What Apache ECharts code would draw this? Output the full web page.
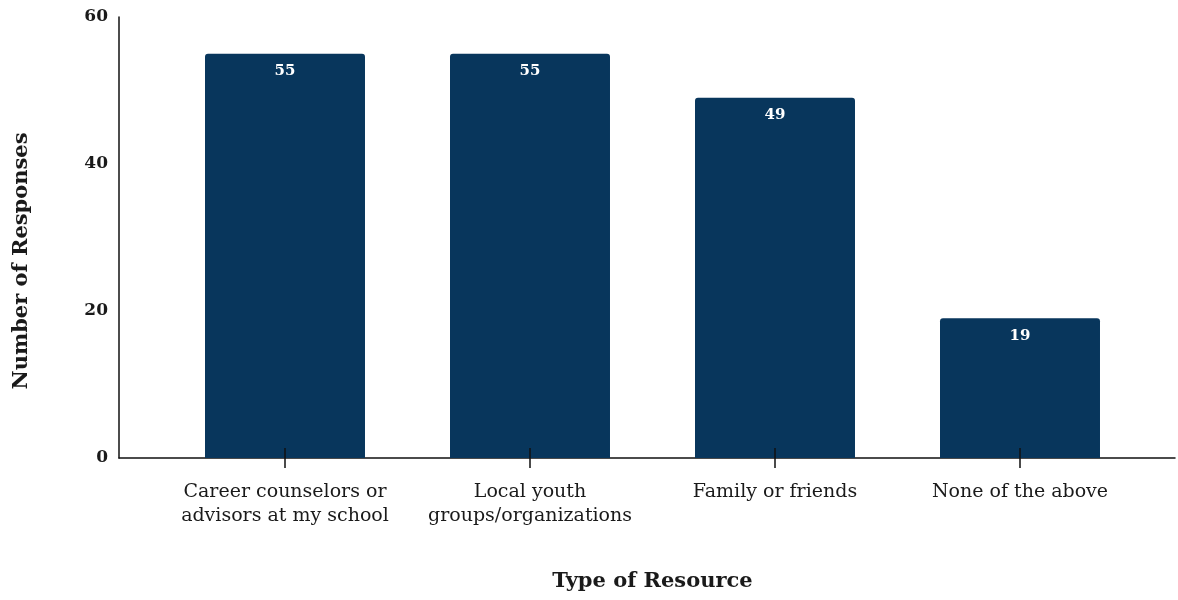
<!DOCTYPE html>
<html>
<head>
<meta charset="utf-8">
<script src="https://cdn.jsdelivr.net/npm/echarts@6/dist/echarts.min.js"></script>
<style>html,body{margin:0;padding:0;background:#fff}#c{width:1178px;height:600px}</style>
</head>
<body>
<div id="c"></div>
<script>
const categories = ["Career counselors or\nadvisors at my school", "Local youth\ngroups/organizations", "Family or friends", "None of the above"];
const responses = [55, 55, 49, 19];
const yTicks = [0, 20, 40, 60];
const xTitle = "Type of Resource";
const yTitle = "Number of Responses";

const FONT = '"DejaVu Serif", "Liberation Serif", serif';
const TXT = '#1a1a1a';
const chart = echarts.init(document.getElementById('c'));
chart.setOption({
  animation: false,
  grid: [
    {left: 119, right: 3, top: 17, bottom: 142, outerBoundsMode: 'none', containLabel: false},
    {left: 162.5, right: 35.5, top: 17, bottom: 142, outerBoundsMode: 'none', containLabel: false}
  ],
  graphic: [{
    type: 'text', x: 22, y: 261, rotation: Math.PI / 2,
    style: {text: yTitle, font: 'bold 21px ' + FONT, fill: TXT, align: 'center', verticalAlign: 'middle'}
  }],
  xAxis: [
    {gridIndex: 0, type: 'value', min: 0, max: 1, position: 'bottom',
     axisLine: {show: true, lineStyle: {color: '#111', width: 1.5}},
     axisTick: {show: false}, axisLabel: {show: false}, splitLine: {show: false}},
    {gridIndex: 1, type: 'category', data: categories, z: 10, position: 'bottom',
     axisLine: {show: false},
     axisTick: {show: true, alignWithLabel: true, inside: false, length: 10, lineStyle: {color: '#111', width: 1.5}},
     axisLabel: {margin: 22, fontFamily: FONT, fontSize: 19, color: TXT, lineHeight: 24, interval: 0},
     name: xTitle, nameLocation: 'middle', nameGap: 113,
     nameTextStyle: {fontFamily: FONT, fontSize: 21, fontWeight: 'bold', color: TXT}},
    {gridIndex: 1, type: 'category', data: categories, z: 10, position: 'bottom', offset: 0,
     axisLine: {show: false},
     axisTick: {show: true, alignWithLabel: true, inside: true, length: 10, lineStyle: {color: '#111', width: 1.5}},
     axisLabel: {show: false}}
  ],
  yAxis: [
    {gridIndex: 0, type: 'value', min: 0, max: 60, interval: 20,
     axisLine: {show: true, lineStyle: {color: '#111', width: 1.5}},
     axisTick: {show: false}, splitLine: {show: false},
     axisLabel: {margin: 11, fontFamily: FONT, fontSize: 17, fontWeight: 'bold', color: TXT,
       formatter: v => yTicks.includes(v) ? String(v) : ''}},
    {gridIndex: 1, type: 'value', min: 0, max: 60, interval: 20, show: false}
  ],
  series: [{
    type: 'bar', xAxisIndex: 1, yAxisIndex: 1, data: responses,
    barWidth: '65.3%',
    itemStyle: {color: '#08365c', borderRadius: [3, 3, 0, 0]},
    label: {show: true, position: 'insideTop', distance: 10, color: '#fff',
      fontFamily: FONT, fontSize: 15, fontWeight: 'bold'}
  }]
});
</script>
</body>
</html>
